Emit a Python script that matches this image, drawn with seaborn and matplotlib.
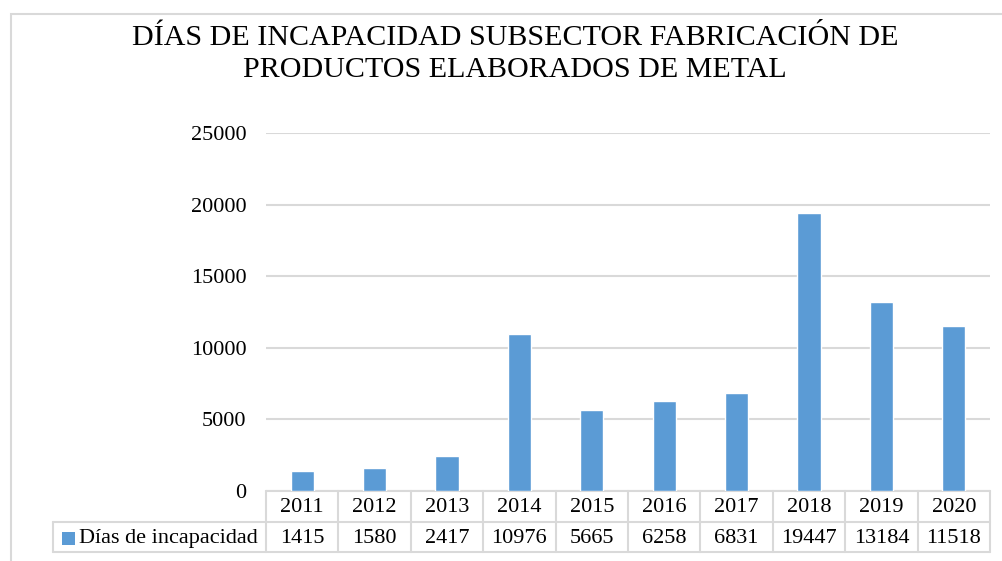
import matplotlib
matplotlib.use("Agg")
import matplotlib.pyplot as plt
import matplotlib.transforms as mtransforms
import seaborn as sns
import pandas as pd
from matplotlib.patches import Rectangle

years = ["2011", "2012", "2013", "2014", "2015", "2016", "2017", "2018", "2019", "2020"]
values = [1415, 1580, 2417, 10976, 5665, 6258, 6831, 19447, 13184, 11518]
series_name = "Días de incapacidad"
title = "DÍAS DE INCAPACIDAD SUBSECTOR FABRICACIÓN DE\nPRODUCTOS ELABORADOS DE METAL"
yticks = [0, 5000, 10000, 15000, 20000, 25000]

sns.set_theme(style="white")
plt.rcParams["font.family"] = ["Liberation Serif", "DejaVu Serif"]
plt.rcParams["text.color"] = "black"

W, H = 1002, 561
fig = plt.figure(figsize=(W / 100, H / 100), dpi=100)
ax = fig.add_axes([266 / W, 1 - 491 / H, 724 / W, 358 / H])

df = pd.DataFrame({"year": years, "value": values})
color = "#5b9bd5"
grid_c = "#d9d9d9"
fs = 16
sns.barplot(data=df, x="year", y="value", color=color, width=0.32,
            saturation=1, ax=ax, zorder=3)

ax.set_ylim(0, 25000)
ax.set_xlim(-0.5, len(years) - 0.5)
ax.set_yticks(yticks)
ax.set_yticklabels([str(v) for v in yticks], fontsize=fs, color="black")
ax.yaxis.grid(True, color=grid_c, linewidth=1.5, zorder=0)
ax.tick_params(axis="y", length=0, pad=14)
ax.set_xticks([])
ax.set_xlabel("")
ax.set_ylabel("")
for s in ax.spines.values():
    s.set_visible(False)

# data table drawn below the axes (x in data units, y in axes fraction)
trans = mtransforms.blended_transform_factory(ax.transData, ax.transAxes)
row_h = 30.5 / 358
y_top, y_mid, y_bot = 0, -row_h, -2 * row_h
n = len(years)
lw = 1.5
lk = dict(color=grid_c, linewidth=lw, transform=trans, clip_on=False, zorder=1)
left_ext = -0.5 - 213 / 72.4
ax.plot([-0.5, n - 0.5], [y_top, y_top], **lk)
ax.plot([left_ext, n - 0.5], [y_mid, y_mid], **lk)
ax.plot([left_ext, n - 0.5], [y_bot, y_bot], **lk)
for i in range(n + 1):
    ax.plot([i - 0.5, i - 0.5], [y_top, y_bot], **lk)
ax.plot([left_ext, left_ext], [y_mid, y_bot], **lk)
for i, (yr, v) in enumerate(zip(years, values)):
    ax.text(i, (y_top + y_mid) / 2 - 0.004, yr, transform=trans, ha="center",
            va="center", fontsize=fs, color="black")
    ax.text(i, (y_mid + y_bot) / 2 - 0.004, str(v), transform=trans, ha="center",
            va="center", fontsize=fs, color="black")
ax.text(-0.5 - 8 / 72.4, (y_mid + y_bot) / 2 - 0.004, series_name, transform=trans,
        ha="right", va="center", fontsize=fs, color="black")

# legend key square
fig.add_artist(Rectangle((62 / W, 1 - 545 / H), 13 / W, 13 / H,
                         transform=fig.transFigure, facecolor=color,
                         edgecolor="none"))

fig.text(515 / W, 1 - 25 / H, title, fontsize=21.6, ha="center", va="top",
         linespacing=1.3, color="black")

# chart area border
fig.add_artist(Rectangle((10.5 / W, -0.1), 1.2, 1 - 13.5 / H + 0.1,
                         transform=fig.transFigure, facecolor="none",
                         edgecolor=grid_c, linewidth=1.5))

fig.savefig("out.png", dpi=100)
